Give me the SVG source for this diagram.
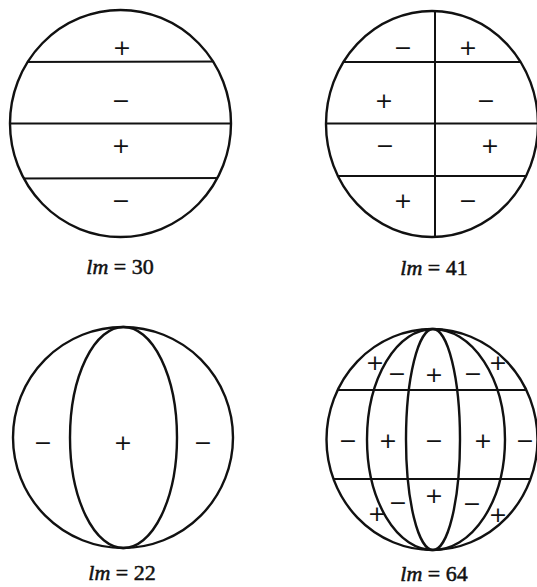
<svg xmlns="http://www.w3.org/2000/svg" width="537" height="587" viewBox="0 0 537 587">
<style>
.o{fill:none;stroke:#111;stroke-width:2.4}
.l{fill:none;stroke:#111;stroke-width:2}
.s{font-family:"DejaVu Sans",sans-serif;font-size:22px;fill:#111;text-anchor:middle}
.lab{font-family:"Liberation Serif",serif;font-size:22px;fill:#111;stroke:#111;stroke-width:0.5;text-anchor:middle}
</style>
<defs>
<clipPath id="c1"><ellipse cx="120.5" cy="123.5" rx="110.5" ry="113.5"/></clipPath>
<clipPath id="c2"><ellipse cx="432" cy="124" rx="106" ry="113"/></clipPath>
<clipPath id="c4"><ellipse cx="432" cy="439.5" rx="105.5" ry="110.5"/></clipPath>
</defs>
<rect width="537" height="587" fill="#fff"/>
<g id="n30">
<g clip-path="url(#c1)" class="l">
<line x1="0" y1="62" x2="240" y2="61.5"/>
<line x1="0" y1="123.5" x2="240" y2="123.5"/>
<line x1="0" y1="178.5" x2="240" y2="178"/>
</g>
<ellipse class="o" cx="120.5" cy="123.5" rx="110.5" ry="113.5"/>
<text class="s" x="122" y="55">+</text>
<text class="s" x="121" y="108">−</text>
<text class="s" x="121" y="153">+</text>
<text class="s" x="121" y="208">−</text>
<text class="lab" x="120" y="274"><tspan font-style="italic">lm</tspan> = 30</text>
</g>
<g id="n41">
<g clip-path="url(#c2)" class="l">
<line x1="300" y1="62" x2="540" y2="62"/>
<line x1="300" y1="123.5" x2="540" y2="123.5"/>
<line x1="300" y1="176" x2="540" y2="176"/>
<line x1="435" y1="0" x2="435" y2="250"/>
</g>
<ellipse class="o" cx="432" cy="124" rx="106" ry="113"/>
<text class="s" x="403" y="55">−</text>
<text class="s" x="468" y="55">+</text>
<text class="s" x="384" y="108">+</text>
<text class="s" x="486" y="108">−</text>
<text class="s" x="385" y="153">−</text>
<text class="s" x="490" y="153">+</text>
<text class="s" x="403" y="208">+</text>
<text class="s" x="468" y="208">−</text>
<text class="lab" x="434" y="275"><tspan font-style="italic">lm</tspan> = 41</text>
</g>
<g id="n22">
<ellipse class="o" cx="123" cy="437.5" rx="110" ry="110.5"/>
<ellipse class="o" cx="123.5" cy="437.5" rx="53.5" ry="110.5"/>
<text class="s" x="43" y="450">−</text>
<text class="s" x="123" y="450">+</text>
<text class="s" x="203" y="450">−</text>
<text class="lab" x="122" y="580"><tspan font-style="italic">lm</tspan> = 22</text>
</g>
<g id="n64">
<g clip-path="url(#c4)" class="l">
<line x1="300" y1="390" x2="540" y2="390"/>
<line x1="300" y1="479" x2="540" y2="479"/>
</g>
<path class="o" d="M433 329 A66 110.5 0 0 0 433 550 M433 329 A72 110.5 0 0 1 433 550 M433 329 A27 110.5 0 0 0 433 550 M433 329 A27 110.5 0 0 1 433 550"/>
<ellipse class="o" cx="432" cy="439.5" rx="105.5" ry="110.5"/>
<text class="s" x="375" y="370">+</text>
<text class="s" x="397" y="381">−</text>
<text class="s" x="434" y="382">+</text>
<text class="s" x="473" y="381">−</text>
<text class="s" x="498" y="370">+</text>
<text class="s" x="348" y="448">−</text>
<text class="s" x="388" y="448">+</text>
<text class="s" x="434" y="448">−</text>
<text class="s" x="483" y="448">+</text>
<text class="s" x="525" y="448">−</text>
<text class="s" x="377" y="521">+</text>
<text class="s" x="398" y="510">−</text>
<text class="s" x="434" y="503">+</text>
<text class="s" x="472" y="511">−</text>
<text class="s" x="498" y="522">+</text>
<text class="lab" x="434" y="581"><tspan font-style="italic">lm</tspan> = 64</text>
</g>
</svg>
